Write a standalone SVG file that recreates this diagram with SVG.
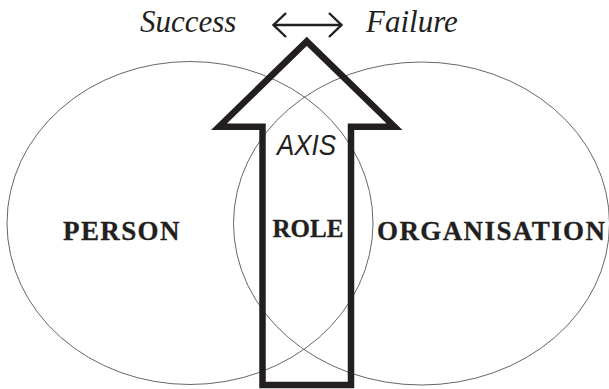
<svg xmlns="http://www.w3.org/2000/svg" width="609" height="389" viewBox="0 0 609 389">
  <style>
    .ring { fill: none; stroke: #555; stroke-width: 0.9; }
    .axis-arrow { fill: none; stroke: #231f20; stroke-width: 6.5; stroke-linejoin: miter; }
    .big { font-family: 'Liberation Serif', 'Times New Roman', serif; font-weight: 700; font-size: 27px; fill: #231f20; stroke: #231f20; stroke-width: 0.3px; }
    .wide { letter-spacing: 1.4px; }
    .role { font-size: 25px; letter-spacing: 0; }
    .ends { font-family: 'Liberation Serif', 'Times New Roman', serif; font-style: italic; font-size: 31px; fill: #231f20; }
    .axis-label { font-family: 'Liberation Sans', Arial, sans-serif; font-style: italic; font-size: 30px; fill: #231f20; }
    .link { fill: none; stroke: #231f20; stroke-width: 2.4; }
  </style>
  <defs>
    <marker id="chev" viewBox="-15 -14 17 28" refX="0" refY="0" markerWidth="17" markerHeight="28" markerUnits="userSpaceOnUse" orient="auto-start-reverse">
      <path d="M-12.5,-12 L0,0 L-12.5,12" fill="none" stroke="#231f20" stroke-width="2.4"/>
    </marker>
  </defs>

  <rect width="609" height="389" fill="#fff"/>

  <!-- overlapping spheres -->
  <g id="person">
    <ellipse class="ring" cx="190" cy="223" rx="183" ry="161.5"/>
    <text class="big wide" x="63" y="239.5">PERSON</text>
  </g>
  <g id="organisation">
    <ellipse class="ring" cx="421.5" cy="223.5" rx="188" ry="161.5"/>
    <text class="big wide" x="377" y="239.5">ORGANISATION</text>
  </g>

  <!-- the role axis arrow -->
  <g id="role">
    <path class="axis-arrow" d="M306.75,41.3 L219,126.7 L262.5,126.7 L262.5,385 L351,385 L351,126.7 L394.5,126.7 Z"/>
    <text class="axis-label" x="277" y="155" textLength="59" lengthAdjust="spacingAndGlyphs">AXIS</text>
    <text class="big role" x="272.5" y="236.7">ROLE</text>
  </g>

  <!-- success / failure scale -->
  <g id="success">
    <text class="ends" x="140" y="32">Success</text>
  </g>
  <g id="failure">
    <text class="ends" x="366" y="32">Failure</text>
  </g>
  <g id="connectors">
    <line class="link" x1="273.5" y1="25" x2="341.5" y2="25" marker-start="url(#chev)" marker-end="url(#chev)"/>
  </g>
</svg>
